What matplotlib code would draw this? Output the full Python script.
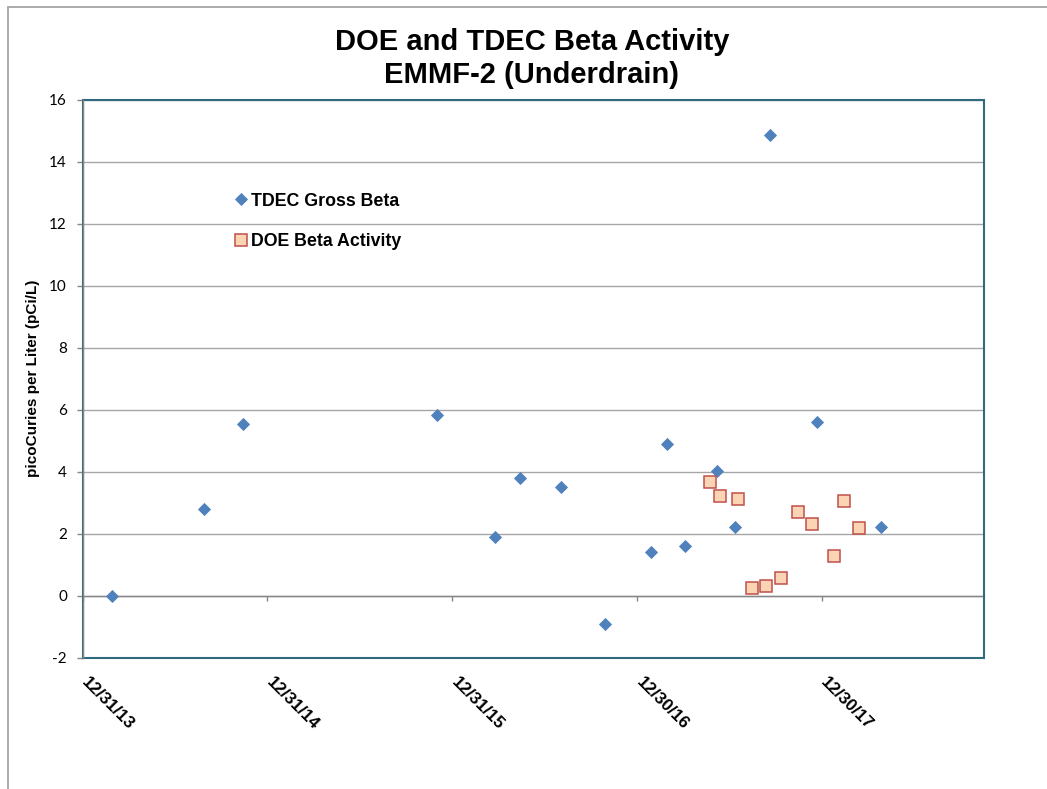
import numpy as np
import pandas as pd
import matplotlib
matplotlib.use("Agg")
import matplotlib.pyplot as plt
from matplotlib.patches import Rectangle
from matplotlib.transforms import ScaledTranslation

# ---------------- data ----------------
tdec_dates = ["2014-02-27", "2014-08-28", "2014-11-13", "2015-12-01", "2016-03-24",
              "2016-05-13", "2016-08-01", "2016-10-28", "2017-01-26", "2017-02-28",
              "2017-04-04", "2017-06-06", "2017-07-11", "2017-09-18", "2017-12-20",
              "2018-04-26"]
tdec_values = [0.0, 2.8, 5.52, 5.82, 1.89, 3.81, 3.5, -0.91, 1.4, 4.9,
               1.61, 4.02, 2.21, 14.86, 5.6, 2.21]

doe_dates = ["2017-05-24", "2017-06-12", "2017-07-18", "2017-08-14", "2017-09-11",
             "2017-10-10", "2017-11-13", "2017-12-10", "2018-01-23", "2018-02-12",
             "2018-03-13"]
doe_values = [3.66, 3.22, 3.11, 0.24, 0.31, 0.58, 2.69, 2.3, 1.29, 3.05, 2.19]

tick_dates = ["2013-12-31", "2014-12-31", "2015-12-31", "2016-12-30", "2017-12-30"]
tick_labels = ["12/31/13", "12/31/14", "12/31/15", "12/30/16", "12/30/17"]
x_start = "2013-12-31"
x_end = "2018-11-16"
y_ticks = list(range(-2, 17, 2))

title = "DOE and TDEC Beta Activity\nEMMF-2 (Underdrain)"
y_label = "picoCuries per Liter (pCi/L)"
series_names = ["TDEC Gross Beta", "DOE Beta Activity"]

# ---------------- style ----------------
W, H = 1047, 789
fig = plt.figure(figsize=(W / 100, H / 100), dpi=100)
fig.patch.set_facecolor("white")

ax_left, ax_right, ax_top, ax_bottom = 82.7, 984.3, 99.5, 657.7
ax = fig.add_axes([ax_left / W, 1 - ax_bottom / H, (ax_right - ax_left) / W, (ax_bottom - ax_top) / H])

axis_gray = "#868686"
grid_gray = "#A6A6A6"
teal = "#2F6A7E"
font_main = "Liberation Sans"

# chart outer border (partially visible)
fig.patches.append(Rectangle((7.5 / W, -0.2), 2.0, 1.2 - 6.5 / H, transform=fig.transFigure,
                             fill=False, edgecolor="#ABABAB", linewidth=1.4))

td = pd.to_datetime(tdec_dates)
dd = pd.to_datetime(doe_dates)

h1, = ax.plot(td, tdec_values, linestyle="none", marker="D", markersize=6.6,
              markerfacecolor="#4F81BD", markeredgecolor="#4F81BD", markeredgewidth=0.6,
              zorder=4, clip_on=False)
h2, = ax.plot(dd, doe_values, linestyle="none", marker="s", markersize=8.6,
              markerfacecolor="#FBD4B4", markeredgecolor="#C0504D", markeredgewidth=1.1,
              zorder=5, clip_on=False)

ax.set_xlim(pd.Timestamp(x_start), pd.Timestamp(x_end))
ax.set_ylim(-2, 16)
ax.set_yticks(y_ticks)
ax.set_yticklabels([str(v) for v in y_ticks], fontfamily="Lato", fontsize=11)

ax.yaxis.grid(True, color=grid_gray, linewidth=1.0, zorder=0)
ax.set_axisbelow(True)

# spines
ax.spines["bottom"].set_position(("data", 0))
ax.spines["bottom"].set_color(axis_gray)
ax.spines["bottom"].set_linewidth(1.0)
ax.spines["left"].set_color(axis_gray)
ax.spines["left"].set_linewidth(1.0)
ax.spines["left"].set_zorder(3)
ax.spines["top"].set_visible(False)
ax.spines["right"].set_visible(False)
ax.add_patch(Rectangle((0, 0), 1, 1, transform=ax.transAxes, fill=False,
                       edgecolor=teal, linewidth=1.5, zorder=2.6, clip_on=False))

ax.tick_params(axis="y", direction="out", length=4.3, width=1.0, color=axis_gray, pad=7)
ax.set_xticks(pd.to_datetime(tick_dates))
ax.set_xticklabels(tick_labels, fontfamily=font_main, fontweight="bold", fontsize=12.3)
ax.tick_params(axis="x", direction="out", length=3.8, width=1.0, color=axis_gray, pad=53)
shift = ScaledTranslation(7 / 100, 0, fig.dpi_scale_trans)
for lab in ax.get_xticklabels():
    lab.set_rotation(-45)
    lab.set_ha("left")
    lab.set_va("top")
    lab.set_rotation_mode("anchor")
    lab.set_transform(lab.get_transform() + shift)

ax.set_ylabel(y_label, fontfamily=font_main, fontweight="bold", fontsize=11)
ax.yaxis.set_label_coords(-(ax_left - 33) / (ax_right - ax_left), 0.5)
ax.yaxis.label.set_va("center")

fig.text(0.508, 0.9259, title, ha="center", va="center", fontfamily=font_main,
         fontweight="bold", fontsize=21, linespacing=1.2)

leg = ax.legend([h1, h2], series_names, loc="center left",
                bbox_to_anchor=(235.5 / W, 1 - 221.5 / H), bbox_transform=fig.transFigure,
                frameon=False, handlelength=0.6, handletextpad=0.25, borderpad=0,
                borderaxespad=0, labelspacing=1.35, markerscale=0.95,
                prop={"family": font_main, "weight": "bold", "size": 12.75})

fig.savefig("out.png", dpi=100, facecolor="white")
